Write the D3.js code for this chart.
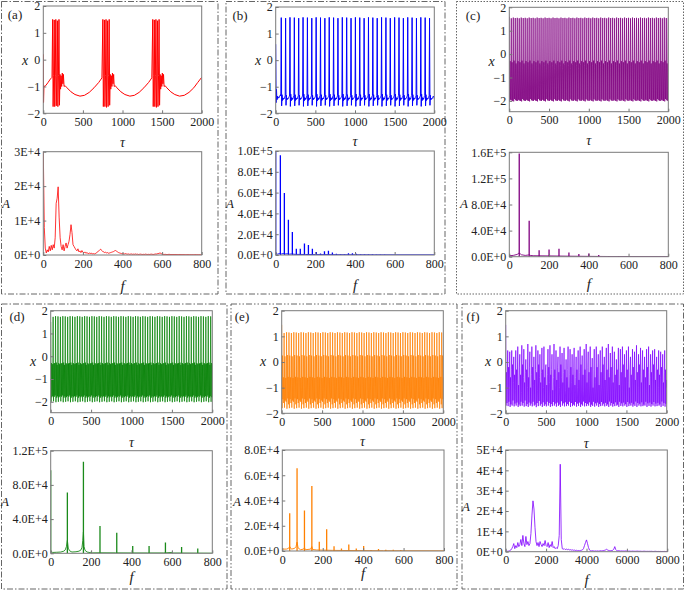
<!DOCTYPE html>
<html><head><meta charset="utf-8">
<script src="https://cdn.jsdelivr.net/npm/d3@7"></script>
<style>
body{margin:0;background:#fff}
svg{display:block}
text{font-family:"Liberation Serif","Times New Roman",serif;fill:#222}
</style>
</head><body>
<svg id="chart" width="685" height="591"></svg>
<script>
// ---------------- DATA ----------------
const timeTicksX = [0,500,1000,1500,2000];
const timeTicksY = [-2,-1,0,1,2];
const freqTicks = [0,200,400,600,800];
const freqTicksF = [0,2000,4000,6000,8000];
const specTicksA = [0,1e4,2e4,3e4];
const specTicksB = [0,2e4,4e4,6e4,8e4,1e5];
const specTicksC = [0,4e4,8e4,1.2e5,1.6e5];
const specTicksD = [0,4e4,8e4,1.2e5];
const specTicksE = [0,2e4,4e4,6e4,8e4];
const specTicksF = [0,1e4,2e4,3e4,4e4,5e4];

// (a) bursting time series (tau, x)
const aTau = [0,3,8,30,60,90,110,
 118,124,131,138,144,151,158,164,171,178,184,191,198,204,211,218,225,232,240,247,254,262,275,
 300,350,400,463,520,580,640,700,740,
 752,758,765,772,778,785,792,798,805,812,818,825,832,838,845,852,859,866,873,880,888,895,908,
 930,980,1030,1093,1150,1210,1270,1330,1370,
 1382,1388,1395,1402,1408,1415,1422,1428,1435,1442,1448,1455,1462,1468,1475,1482,1489,1496,1503,1510,1518,1525,1538,
 1560,1610,1660,1720,1780,1840,1900,1950,2000];
const aX = [0.2,-1.6,-1.0,-0.97,-0.85,-0.72,-0.66,
 1.5,-1.75,-0.6,1.48,-1.75,-0.6,1.5,-1.72,-0.62,1.45,-1.75,-0.6,1.5,-1.7,-0.55,-1.1,-0.6,-1.0,-0.5,-0.9,-0.55,-1.0,-0.97,
 -1.05,-1.2,-1.3,-1.36,-1.33,-1.22,-1.05,-0.85,-0.68,
 1.5,-1.75,-0.6,1.48,-1.75,-0.6,1.5,-1.78,-0.62,1.45,-1.75,-0.6,1.5,-1.7,-0.55,-1.1,-0.6,-1.0,-0.5,-0.9,-0.55,-1.0,-0.97,
 -1.05,-1.2,-1.3,-1.36,-1.33,-1.22,-1.05,-0.85,-0.68,
 1.5,-1.75,-0.6,1.48,-1.75,-0.6,1.5,-1.78,-0.62,1.45,-1.75,-0.6,1.5,-1.7,-0.55,-1.1,-0.6,-1.0,-0.5,-0.9,-0.55,-1.0,-0.97,
 -1.05,-1.2,-1.3,-1.36,-1.33,-1.22,-1.05,-0.85,-0.66];

// (b)-(f) time series sampled uniformly over tau 0..2000
const bX = [0.6,-1.6,-1.1,-1.5,-1.35,-1.45,-1.4,-1.42,-1.38,-1.4,-1.36,-1.33,-1.3,-1.35,
 1.6,-1.72,-1.3,-1.52,-1.42,-1.48,-1.44,-1.46,-1.41,-1.38,-1.34,
 1.58,-1.7,-1.32,-1.5,-1.43,-1.47,-1.45,-1.44,-1.4,-1.37,-1.35,
 1.61,-1.74,-1.28,-1.53,-1.41,-1.49,-1.43,-1.47,-1.42,-1.36,-1.33,
 1.6,-1.72,-1.3,-1.52,-1.42,-1.48,-1.44,-1.46,-1.41,-1.38,-1.34,
 1.58,-1.7,-1.32,-1.5,-1.43,-1.47,-1.45,-1.44,-1.4,-1.37,-1.35,
 1.61,-1.74,-1.28,-1.53,-1.41,-1.49,-1.43,-1.47,-1.42,-1.36,-1.33,
 1.6,-1.72,-1.3,-1.52,-1.42,-1.48,-1.44,-1.46,-1.41,-1.38,-1.34,
 1.58,-1.7,-1.32,-1.5,-1.43,-1.47,-1.45,-1.44,-1.4,-1.37,-1.35,
 1.61,-1.74,-1.28,-1.53,-1.41,-1.49,-1.43,-1.47,-1.42,-1.36,-1.33,
 1.6,-1.72,-1.3,-1.52,-1.42,-1.48,-1.44,-1.46,-1.41,-1.38,-1.34,
 1.58,-1.7,-1.32,-1.5,-1.43,-1.47,-1.45,-1.44,-1.4,-1.37,-1.35,
 1.61,-1.74,-1.28,-1.53,-1.41,-1.49,-1.43,-1.47,-1.42,-1.36,-1.33,
 1.6,-1.72,-1.3,-1.52,-1.42,-1.48,-1.44,-1.46,-1.41,-1.38,-1.34,
 1.58,-1.7,-1.32,-1.5,-1.43,-1.47,-1.45,-1.44,-1.4,-1.37,-1.35,
 1.61,-1.74,-1.28,-1.53,-1.41,-1.49,-1.43,-1.47,-1.42,-1.36,-1.33,
 1.6,-1.72,-1.3,-1.52,-1.42,-1.48,-1.44,-1.46,-1.41,-1.38,-1.34,
 1.58,-1.7,-1.32,-1.5,-1.43,-1.47,-1.45,-1.44,-1.4,-1.37,-1.35,
 1.61,-1.74,-1.28,-1.53,-1.41,-1.49,-1.43,-1.47,-1.42,-1.36,-1.33,
 1.6,-1.72,-1.3,-1.52,-1.42,-1.48,-1.44,-1.46,-1.41,-1.38,-1.34,
 1.58,-1.7,-1.32,-1.5,-1.43,-1.47,-1.45,-1.44,-1.4,-1.37,-1.35,
 1.61,-1.74,-1.28,-1.53,-1.41,-1.49,-1.43,-1.47,-1.42,-1.36,-1.33,
 1.6,-1.72,-1.3,-1.52,-1.42,-1.48,-1.44,-1.46,-1.41,-1.38,-1.34,
 1.58,-1.7,-1.32,-1.5,-1.43,-1.47,-1.45,-1.44,-1.4,-1.37,-1.35,
 1.61,-1.74,-1.28,-1.53,-1.41,-1.49,-1.43,-1.47,-1.42,-1.36,-1.33,
 1.6,-1.72,-1.3,-1.52,-1.42,-1.48,-1.44,-1.46,-1.41,-1.38,-1.34,
 1.58,-1.7,-1.32,-1.5,-1.43,-1.47,-1.45,-1.44,-1.4,-1.37,-1.35,
 1.61,-1.74,-1.28,-1.53,-1.41,-1.49,-1.43,-1.47,-1.42,-1.36,-1.33,
 1.6,-1.72,-1.3,-1.52,-1.42,-1.48,-1.44,-1.46,-1.41,-1.38,-1.34,
 1.58,-1.7,-1.32,-1.5,-1.43,-1.47,-1.45,-1.44,-1.4,-1.37,-1.35,
 1.61,-1.74,-1.28,-1.53,-1.41,-1.49,-1.43,-1.47,-1.42,-1.36,-1.33,
 1.6,-1.72,-1.3,-1.52,-1.42,-1.48,-1.44,-1.46,-1.41,-1.38,-1.34,
 1.58,-1.7,-1.32,-1.5,-1.43,-1.47,-1.45,-1.44,-1.4,-1.37,-1.35,
 1.61,-1.74,-1.28,-1.53,-1.41,-1.49,-1.43,-1.47,-1.42,-1.36,-1.33,
 1.6,-1.72,-1.3,-1.52,-1.42,-1.48,-1.44,-1.46,-1.41,-1.38,-1.34,
 1.58,-1.7,-1.32,-1.5,-1.43,-1.47,-1.45,-1.44,-1.4,-1.37,-1.35,
 -1.4,-1.45];

const cX = [
 1.6,-2.0,-0.3,-1.95,-0.55, 1.53,-1.98,-0.35,-2.0,-0.5, 1.56,-2.02,-0.28,-1.92,-0.6, 1.54,-1.97,-0.4,-1.99,-0.45,
 1.55,-2.0,-0.3,-1.95,-0.55, 1.53,-1.98,-0.35,-2.0,-0.5, 1.56,-2.02,-0.28,-1.92,-0.6, 1.54,-1.97,-0.4,-1.99,-0.45,
 1.55,-2.0,-0.3,-1.95,-0.55, 1.53,-1.98,-0.35,-2.0,-0.5, 1.56,-2.02,-0.28,-1.92,-0.6, 1.54,-1.97,-0.4,-1.99,-0.45,
 1.55,-2.0,-0.3,-1.95,-0.55, 1.53,-1.98,-0.35,-2.0,-0.5, 1.56,-2.02,-0.28,-1.92,-0.6, 1.54,-1.97,-0.4,-1.99,-0.45,
 1.55,-2.0,-0.3,-1.95,-0.55, 1.53,-1.98,-0.35,-2.0,-0.5, 1.56,-2.02,-0.28,-1.92,-0.6, 1.54,-1.97,-0.4,-1.99,-0.45,
 1.55,-2.0,-0.3,-1.95,-0.55, 1.53,-1.98,-0.35,-2.0,-0.5, 1.56,-2.02,-0.28,-1.92,-0.6, 1.54,-1.97,-0.4,-1.99,-0.45,
 1.55,-2.0,-0.3,-1.95,-0.55, 1.53,-1.98,-0.35,-2.0,-0.5, 1.56,-2.02,-0.28,-1.92,-0.6, 1.54,-1.97,-0.4,-1.99,-0.45,
 1.55,-2.0,-0.3,-1.95,-0.55, 1.53,-1.98,-0.35,-2.0,-0.5, 1.56,-2.02,-0.28,-1.92,-0.6, 1.54,-1.97,-0.4,-1.99,-0.45,
 1.55,-2.0,-0.3,-1.95,-0.55, 1.53,-1.98,-0.35,-2.0,-0.5, 1.56,-2.02,-0.28,-1.92,-0.6, 1.54,-1.97,-0.4,-1.99,-0.45,
 1.55,-2.0,-0.3,-1.95,-0.55, 1.53,-1.98,-0.35,-2.0,-0.5, 1.56,-2.02,-0.28,-1.92,-0.6, 1.54,-1.97,-0.4,-1.99,-0.45,
 1.55,-2.0,-0.3,-1.95,-0.55, 1.53,-1.98,-0.35,-2.0,-0.5, 1.56,-2.02,-0.28,-1.92,-0.6, 1.54,-1.97,-0.4,-1.99,-0.45,
 1.55,-2.0,-0.3,-1.95,-0.55, 1.53,-1.98,-0.35,-2.0,-0.5, 1.56,-2.02,-0.28,-1.92,-0.6, 1.54,-1.97,-0.4,-1.99,-0.45,
 1.55,-2.0,-0.3,-1.95,-0.55, 1.53,-1.98,-0.35,-2.0,-0.5, 1.56,-2.02,-0.28,-1.92,-0.6, 1.54,-1.97,-0.4,-1.99,-0.45,
 1.55,-2.0,-0.3,-1.95,-0.55, 1.53,-1.98,-0.35,-2.0,-0.5, 1.56,-2.02,-0.28,-1.92,-0.6, 1.54,-1.97,-0.4,-1.99,-0.45,
 1.55,-2.0,-0.3,-1.95,-0.55, 1.53,-1.98,-0.35,-2.0,-0.5, 1.56,-2.02,-0.28,-1.92,-0.6, 1.54,-1.97,-0.4,-1.99,-0.45,
 1.55,-2.0,-0.3,-1.95,-0.55, 1.53,-1.98,-0.35,-2.0,-0.5, 1.56,-2.02,-0.28,-1.92,-0.6, 1.54,-1.97,-0.4,-1.99,-0.45,
 1.55,-2.0,-0.3,-1.95,-0.55, 1.53,-1.98,-0.35,-2.0,-0.5, 1.56,-2.02,-0.28,-1.92,-0.6, 1.54,-1.97,-0.4,-1.99,-0.45,
 1.55,-2.0,-0.3,-1.95,-0.55, 1.53,-1.98,-0.35,-2.0,-0.5, 1.56,-2.02,-0.28,-1.92,-0.6, 1.54,-1.97,-0.4,-1.99,-0.45,
 1.55,-2.0,-0.3,-1.95,-0.55, 1.53,-1.98,-0.35,-2.0,-0.5, 1.56,-2.02,-0.28,-1.92,-0.6, 1.54,-1.97,-0.4,-1.99,-0.45,
 1.55,-2.0,-0.3,-1.95,-0.55, 1.53,-1.98,-0.35,-2.0,-0.5, 1.56,-2.02,-0.28,-1.92,-0.6, 1.54,-1.97,-0.4,-1.99,-0.45,
 1.55];

const dX = [
 1.5,-2.0,-0.3,-1.8,-0.35,-1.75, 1.73,-1.98,-0.32,-1.78,-0.3,-1.72, 1.76,-2.02,-0.28,-1.82,-0.38,-1.76,
 1.75,-2.0,-0.3,-1.8,-0.35,-1.75, 1.73,-1.98,-0.32,-1.78,-0.3,-1.72, 1.76,-2.02,-0.28,-1.82,-0.38,-1.76,
 1.75,-2.0,-0.3,-1.8,-0.35,-1.75, 1.73,-1.98,-0.32,-1.78,-0.3,-1.72, 1.76,-2.02,-0.28,-1.82,-0.38,-1.76,
 1.75,-2.0,-0.3,-1.8,-0.35,-1.75, 1.73,-1.98,-0.32,-1.78,-0.3,-1.72, 1.76,-2.02,-0.28,-1.82,-0.38,-1.76,
 1.75,-2.0,-0.3,-1.8,-0.35,-1.75, 1.73,-1.98,-0.32,-1.78,-0.3,-1.72, 1.76,-2.02,-0.28,-1.82,-0.38,-1.76,
 1.75,-2.0,-0.3,-1.8,-0.35,-1.75, 1.73,-1.98,-0.32,-1.78,-0.3,-1.72, 1.76,-2.02,-0.28,-1.82,-0.38,-1.76,
 1.75,-2.0,-0.3,-1.8,-0.35,-1.75, 1.73,-1.98,-0.32,-1.78,-0.3,-1.72, 1.76,-2.02,-0.28,-1.82,-0.38,-1.76,
 1.75,-2.0,-0.3,-1.8,-0.35,-1.75, 1.73,-1.98,-0.32,-1.78,-0.3,-1.72, 1.76,-2.02,-0.28,-1.82,-0.38,-1.76,
 1.75,-2.0,-0.3,-1.8,-0.35,-1.75, 1.73,-1.98,-0.32,-1.78,-0.3,-1.72, 1.76,-2.02,-0.28,-1.82,-0.38,-1.76,
 1.75,-2.0,-0.3,-1.8,-0.35,-1.75, 1.73,-1.98,-0.32,-1.78,-0.3,-1.72, 1.76,-2.02,-0.28,-1.82,-0.38,-1.76,
 1.75,-2.0,-0.3,-1.8,-0.35,-1.75, 1.73,-1.98,-0.32,-1.78,-0.3,-1.72, 1.76,-2.02,-0.28,-1.82,-0.38,-1.76,
 1.75,-2.0,-0.3,-1.8,-0.35,-1.75, 1.73,-1.98,-0.32,-1.78,-0.3,-1.72, 1.76,-2.02,-0.28,-1.82,-0.38,-1.76,
 1.75,-2.0,-0.3,-1.8,-0.35,-1.75, 1.73,-1.98,-0.32,-1.78,-0.3,-1.72, 1.76,-2.02,-0.28,-1.82,-0.38,-1.76,
 1.75,-2.0,-0.3,-1.8,-0.35,-1.75, 1.73,-1.98,-0.32,-1.78,-0.3,-1.72, 1.76,-2.02,-0.28,-1.82,-0.38,-1.76,
 1.75,-2.0,-0.3,-1.8,-0.35,-1.75, 1.73,-1.98,-0.32,-1.78,-0.3,-1.72, 1.76,-2.02,-0.28,-1.82,-0.38,-1.76,
 1.75,-2.0,-0.3,-1.8,-0.35,-1.75, 1.73,-1.98,-0.32,-1.78,-0.3,-1.72, 1.76,-2.02,-0.28,-1.82,-0.38,-1.76,
 1.75,-2.0,-0.3,-1.8,-0.35,-1.75, 1.73,-1.98,-0.32,-1.78,-0.3,-1.72, 1.76,-2.02,-0.28,-1.82,-0.38,-1.76,
 1.75,-2.0,-0.3,-1.8,-0.35,-1.75, 1.73,-1.98,-0.32,-1.78,-0.3,-1.72, 1.76,-2.02,-0.28,-1.82,-0.38,-1.76,
 1.75,-2.0,-0.3,-1.8,-0.35,-1.75, 1.73,-1.98,-0.32,-1.78,-0.3,-1.72, 1.76,-2.02,-0.28,-1.82,-0.38,-1.76,
 1.75,-2.0,-0.3,-1.8,-0.35,-1.75, 1.73,-1.98,-0.32,-1.78,-0.3,-1.72, 1.76,-2.02,-0.28,-1.82,-0.38,-1.76,
 1.75,-2.0,-0.3,-1.8,-0.35,-1.75, 1.73,-1.98,-0.32,-1.78,-0.3,-1.72, 1.76,-2.02,-0.28,-1.82,-0.38,-1.76,
 1.75,-2.0,-0.3,-1.8,-0.35,-1.75, 1.73,-1.98,-0.32,-1.78,-0.3,-1.72, 1.76,-2.02,-0.28,-1.82,-0.38,-1.76,
 1.75,-2.0,-0.3,-1.8,-0.35];

const eX = [
 1.45,-1.8,0.25,-1.45,-0.6,-1.6, 1.13,-1.78,0.22,-1.5,-0.62,-1.55, 1.16,-1.82,0.27,-1.42,-0.58,-1.65,
 1.15,-1.8,0.25,-1.45,-0.6,-1.6, 1.13,-1.78,0.22,-1.5,-0.62,-1.55, 1.16,-1.82,0.27,-1.42,-0.58,-1.65,
 1.15,-1.8,0.25,-1.45,-0.6,-1.6, 1.13,-1.78,0.22,-1.5,-0.62,-1.55, 1.16,-1.82,0.27,-1.42,-0.58,-1.65,
 1.15,-1.8,0.25,-1.45,-0.6,-1.6, 1.13,-1.78,0.22,-1.5,-0.62,-1.55, 1.16,-1.82,0.27,-1.42,-0.58,-1.65,
 1.15,-1.8,0.25,-1.45,-0.6,-1.6, 1.13,-1.78,0.22,-1.5,-0.62,-1.55, 1.16,-1.82,0.27,-1.42,-0.58,-1.65,
 1.15,-1.8,0.25,-1.45,-0.6,-1.6, 1.13,-1.78,0.22,-1.5,-0.62,-1.55, 1.16,-1.82,0.27,-1.42,-0.58,-1.65,
 1.15,-1.8,0.25,-1.45,-0.6,-1.6, 1.13,-1.78,0.22,-1.5,-0.62,-1.55, 1.16,-1.82,0.27,-1.42,-0.58,-1.65,
 1.15,-1.8,0.25,-1.45,-0.6,-1.6, 1.13,-1.78,0.22,-1.5,-0.62,-1.55, 1.16,-1.82,0.27,-1.42,-0.58,-1.65,
 1.15,-1.8,0.25,-1.45,-0.6,-1.6, 1.13,-1.78,0.22,-1.5,-0.62,-1.55, 1.16,-1.82,0.27,-1.42,-0.58,-1.65,
 1.15,-1.8,0.25,-1.45,-0.6,-1.6, 1.13,-1.78,0.22,-1.5,-0.62,-1.55, 1.16,-1.82,0.27,-1.42,-0.58,-1.65,
 1.15,-1.8,0.25,-1.45,-0.6,-1.6, 1.13,-1.78,0.22,-1.5,-0.62,-1.55, 1.16,-1.82,0.27,-1.42,-0.58,-1.65,
 1.15,-1.8,0.25,-1.45,-0.6,-1.6, 1.13,-1.78,0.22,-1.5,-0.62,-1.55, 1.16,-1.82,0.27,-1.42,-0.58,-1.65,
 1.15,-1.8,0.25,-1.45,-0.6,-1.6, 1.13,-1.78,0.22,-1.5,-0.62,-1.55, 1.16,-1.82,0.27,-1.42,-0.58,-1.65,
 1.15,-1.8,0.25,-1.45,-0.6,-1.6, 1.13,-1.78,0.22,-1.5,-0.62,-1.55, 1.16,-1.82,0.27,-1.42,-0.58,-1.65,
 1.15,-1.8,0.25,-1.45,-0.6,-1.6, 1.13,-1.78,0.22,-1.5,-0.62,-1.55, 1.16,-1.82,0.27,-1.42,-0.58,-1.65,
 1.15,-1.8,0.25,-1.45,-0.6,-1.6, 1.13,-1.78,0.22,-1.5,-0.62,-1.55, 1.16,-1.82,0.27,-1.42,-0.58,-1.65,
 1.15,-1.8,0.25,-1.45,-0.6,-1.6, 1.13,-1.78,0.22,-1.5,-0.62,-1.55, 1.16,-1.82,0.27,-1.42,-0.58,-1.65,
 1.15,-1.8,0.25,-1.45,-0.6,-1.6, 1.13,-1.78,0.22,-1.5,-0.62,-1.55, 1.16,-1.82,0.27,-1.42,-0.58,-1.65,
 1.15,-1.8,0.25,-1.45,-0.6,-1.6, 1.13,-1.78,0.22,-1.5,-0.62,-1.55, 1.16,-1.82,0.27,-1.42,-0.58,-1.65,
 1.15,-1.8,0.25,-1.45,-0.6,-1.6, 1.13,-1.78,0.22,-1.5,-0.62,-1.55, 1.16,-1.82,0.27,-1.42,-0.58,-1.65,
 1.15,-1.8,0.25,-1.45,-0.6,-1.6, 1.13,-1.78,0.22,-1.5,-0.62,-1.55, 1.16,-1.82,0.27,-1.42,-0.58,-1.65,
 1.15,-1.8,0.25,-1.45,-0.6,-1.6, 1.13,-1.78,0.22,-1.5,-0.62,-1.55, 1.16,-1.82,0.27,-1.42,-0.58,-1.65,
 1.15,-1.8,0.25,-1.45,-0.6];

const fX = [
 1.45,-1.7,-0.4,-1.6,-0.9, 0.45,-1.72,-0.2,-1.55,-1.0, 0.4,-1.75,-0.6,-1.65,-0.3, 0.45,-1.7,-0.1,-1.5,-0.8,
 0.2,-1.73,-0.5,-1.62,-1.1, 0.45,-1.7,-0.3,-1.58,-0.7, 0.6,-1.75,-0.9,-1.66,-0.2, 0.3,-1.72,-0.5,-1.55,-1.2,
 0.65,-1.7,-0.1,-1.6,-0.6, 0.5,-1.74,-0.8,-1.5,-0.4, 0.1,-1.72,-0.3,-1.64,-1.0, 0.7,-1.75,-0.6,-1.58,-0.2,
 0.4,-1.7,-1.0,-1.62,-0.5, 0.6,-1.73,-0.2,-1.55,-0.9, 0.2,-1.7,-0.7,-1.66,-0.3, 0.65,-1.76,-0.4,-1.6,-1.1,
 0.45,-1.72,-0.1,-1.52,-0.6, 0.3,-1.7,-0.8,-1.63,-0.4, 0.55,-1.75,-0.3,-1.57,-1.0, 0.6,-1.71,-0.6,-1.65,-0.2,
 -0.1,-1.73,-0.9,-1.55,-0.5, 0.5,-1.7,-0.2,-1.6,-0.8, 0.65,-1.75,-0.5,-1.64,-0.3, 0.3,-1.72,-1.1,-1.56,-0.6,
 0.7,-1.7,-0.3,-1.62,-0.9, 0.45,-1.74,-0.7,-1.58,-0.2, 0.2,-1.71,-0.4,-1.66,-1.0, 0.6,-1.75,-0.1,-1.53,-0.6,
 0.35,-1.7,-0.8,-1.61,-0.4, 0.55,-1.73,-0.3,-1.57,-1.1, 0.1,-1.72,-0.6,-1.64,-0.3, 0.6,-1.7,-1.0,-1.55,-0.5,
 0.5,-1.75,-0.2,-1.6,-0.8, 0.3,-1.72,-0.5,-1.66,-0.2, 0.55,-1.7,-0.9,-1.56,-0.6, 0.2,-1.74,-0.3,-1.62,-1.0,
 0.45,-1.71,-0.7,-1.58,-0.4, 0.6,-1.75,-0.1,-1.65,-0.7, 0.25,-1.7,-0.5,-1.54,-1.1, 0.5,-1.73,-0.3,-1.6,-0.5,
 0.7,-1.72,-0.8,-1.63,-0.2, 0.4,-1.7,-0.4,-1.57,-0.9, 0.6,-1.75,-0.2,-1.66,-0.6, 0.15,-1.71,-1.0,-1.55,-0.3,
 0.5,-1.74,-0.6,-1.61,-0.8, 0.6,-1.7,-0.2,-1.58,-0.5, 0.3,-1.75,-0.9,-1.64,-0.2, 0.45,-1.72,-0.4,-1.56,-1.0,
 0.6,-1.7,-0.1,-1.62,-0.6, 0.2,-1.73,-0.7,-1.59,-0.3, 0.55,-1.71,-0.3,-1.65,-1.1, 0.7,-1.75,-0.6,-1.54,-0.4,
 0.35,-1.7,-0.2,-1.6,-0.8, 0.6,-1.74,-0.8,-1.63,-0.3, 0.4,-1.72,-0.5,-1.57,-1.0, 0.1,-1.7,-0.3,-1.66,-0.5,
 0.55,-1.75,-0.9,-1.55,-0.2, 0.5,-1.71,-0.4,-1.61,-0.7, 0.6,-1.73,-0.1,-1.58,-1.1, 0.3,-1.7,-0.6,-1.64,-0.4,
 0.45,-1.75,-0.3,-1.56,-0.8, 0.6,-1.72,-1.0,-1.62,-0.2, 0.2,-1.7,-0.5,-1.59,-0.6, 0.5,-1.74,-0.2,-1.65,-0.9,
 0.4,-1.71,-0.7,-1.54,-0.3, 0.65,-1.75,-0.4,-1.6,-1.0, 0.3,-1.7,-0.1,-1.63,-0.5, 0.55,-1.73,-0.8,-1.57,-0.2,
 0.45,-1.72,-0.3,-1.66,-0.7, 0.2,-1.7,-0.6,-1.55,-1.1, 0.5,-1.75,-0.2,-1.61,-0.4, 0.6,-1.71,-0.9,-1.58,-0.6,
 0.3,-1.74,-0.4,-1.64,-0.2, 0.45,-1.7,-0.1,-1.56,-0.9, 0.5,-1.73,-0.7,-1.62,-0.3, 0.2,-1.72,-0.3,-1.59,-1.0,
 0.45,-1.7,-0.5,-1.65,-0.6, 0.4,-1.75,-0.2,-1.54,-0.8, 0.3,-1.71,-0.8,-1.6,-0.4, 0.45,-1.74,-0.3,-1.63,-0.7,
 -1.0];

// (a) spectrum, f = 0..800 step 5
const aSpec = [30000,8000,2000,600,1500,900,2500,1200,2800,1500,3000,2000,5000,15000,16500,19800,11000,5000,2500,1500,
 3000,1200,2500,3500,2000,3000,4000,6000,8800,6500,3000,2500,2000,1500,1200,1800,900,1200,700,1300,800,
 600,900,500,700,500,400,600,400,500,300,400,300,500,700,900,1200,1500,1700,1300,1000,
 900,700,800,600,700,500,600,700,800,900,1000,1200,1300,1100,900,700,600,500,400,400,
 350,300,400,300,250,300,200,250,300,200,250,200,300,200,250,150,200,250,200,150,
 200,150,250,200,150,200,150,200,250,200,150,200,300,250,350,400,500,600,400,250,
 200,150,200,150,100,150,200,150,100,150,100,150,100,150,100,120,100,150,100,120,
 100,120,100,80,100,120,100,80,100,80,100,80,100,120,80,100,80,100,80,100];

// (f) spectrum, f = 0..8000 step 50
const fSpec = [500,300,200,300,500,800,1500,2500,4000,1500,3000,2000,4500,2500,3500,6000,3000,8000,4000,2500,7500,
 3500,5000,3000,4000,9000,18000,25000,21000,12000,5000,3000,4500,2500,5000,3500,2500,4000,3000,5500,3000,
 2500,4500,2000,3500,2500,5000,2000,2500,1500,2000,1500,3000,8000,43000,6000,1500,1200,1500,1000,1300,
 1000,1200,900,1000,800,900,700,800,600,700,500,600,500,600,700,900,1500,3000,4500,5800,
 4000,2000,800,500,400,500,400,300,400,300,400,300,400,500,400,500,600,700,900,1200,
 800,600,500,500,600,700,1200,2500,1000,500,400,500,400,300,400,300,350,300,400,300,
 300,250,300,200,250,300,200,250,200,300,250,200,250,200,150,200,250,200,150,200,
 150,200,150,200,150,100,150,200,150,100,150,100,150,100,120,100,150,100,120,100];

// line spectra: peak frequencies / amplitudes and the low background
const bPeakF = [0,23.5,43.7,64,84,104,124,145,165,185,205,226,246,266,286,306,327,347,367,387,407,428,448,468,488,508,528,549];
const bPeakA = [100000,96000,59500,34000,22000,6000,6000,11000,9500,6000,3000,1500,3500,4000,2500,1200,500,500,1800,1800,1200,500,500,400,400,300,300,200];
const bBaseF = [0,10,20,30,40,50,60,70,80,100,150,200,300,400,500,800];
const bBaseA = [1500,800,1500,1000,1500,1000,1200,800,1000,600,500,400,300,200,150,100];

const cPeakF = [50,100,150,200,250,300,350,400,450,500,550];
const cPeakA = [158000,55000,10000,11000,12000,6600,4000,5000,2500,1200,800];
const cBaseF = [0,20,40,45,50,55,60,80,95,100,105,120,200,300,400,500,800];
const cBaseA = [1500,2000,3500,5000,5000,4500,3000,2000,2500,3000,2000,1500,1200,800,500,300,200];

const dPeakF = [0,82.5,162,244,327,406,487,568,648,728];
const dPeakA = [97000,71000,107000,32000,24000,8500,8500,12500,7500,5500];
const dBaseF = [0,10,30,50,65,72,78,82.5,87,93,105,125,140,150,155,159,162,165,170,180,195,200,205,240,320,400,480,560,600,605,640,720,800];
const dBaseA = [2000,1000,1200,1500,2500,4000,8000,15000,6000,3000,1500,1800,2500,4000,7000,15000,25000,8000,3500,1500,800,1500,500,600,500,400,400,400,1000,300,300,200,100];

const ePeakF = [36.6,73,109.6,146.2,183,219.5,256,292.7,329,366,402.5,439,476,512,549,586];
const ePeakA = [30000,65500,32000,51500,7300,17300,3700,2000,5200,2000,4000,500,1500,1000,1000,800];
const eBaseF = [0,20,30,36.6,45,60,68,73,78,90,105,109.6,115,140,146.2,150,170,200,250,300,400,500,800];
const eBaseA = [1500,1500,2000,3500,1500,2000,3500,7000,2500,1000,1500,2500,1000,1500,3500,1200,800,700,500,400,300,200,100];

// ---------------- DRAWING ----------------
const svg = d3.select('#chart');
let clipN = 0;
const fmt0 = v => v.toExponential(0).toUpperCase();
const fmt1 = v => v.toExponential(1).toUpperCase();

function axes(L, T, R, B, xDom, yDom, xT, yT, yF) {
  const x = d3.scaleLinear().domain(xDom).range([L, R]);
  const y = d3.scaleLinear().domain(yDom).range([B, T]);
  const id = 'clip' + (clipN++);
  svg.append('clipPath').attr('id', id).append('rect')
    .attr('x', L).attr('y', T).attr('width', R - L).attr('height', B - T);
  const plot = svg.append('g').attr('clip-path', `url(#${id})`);
  return {x, y, plot, draw() {
    const ax = svg.append('g').attr('transform', `translate(0,${B})`)
      .call(d3.axisBottom(x).tickValues(xT).tickFormat(d3.format('d')).tickSize(-3).tickPadding(4));
    const ay = svg.append('g').attr('transform', `translate(${L},0)`)
      .call(d3.axisLeft(y).tickValues(yT).tickFormat(yF).tickSize(-3).tickPadding(3));
    [ax, ay].forEach(a => {
      a.select('.domain').remove();
      a.selectAll('line').attr('stroke', '#777');
      a.selectAll('text').style('font-size', '12px').style('fill', '#222')
        .style('font-family', '"Liberation Serif","Times New Roman",serif');
    });
    svg.append('rect').attr('x', L).attr('y', T).attr('width', R - L).attr('height', B - T)
      .attr('fill', 'none').attr('stroke', '#7a7a7a').attr('stroke-width', 1);
  }};
}

function uniform(vals) {
  const n = vals.length;
  return vals.map((v, i) => [i * 2000 / (n - 1), v]);
}

function drawLine(A, pts, color, w) {
  A.plot.append('path').datum(pts)
    .attr('d', d3.line().x(d => A.x(d[0])).y(d => A.y(d[1])))
    .attr('fill', 'none').attr('stroke', color).attr('stroke-width', w).attr('stroke-linejoin', 'round');
}

function drawSticks(A, pf, pa, bf, ba, color) {
  drawLine(A, bf.map((f, i) => [f, ba[i]]), color, 0.9);
  A.plot.selectAll(null).data(pf.map((f, i) => [f, pa[i]])).enter().append('line')
    .attr('x1', d => A.x(d[0])).attr('x2', d => A.x(d[0]))
    .attr('y1', A.y(0)).attr('y2', d => A.y(d[1]))
    .attr('stroke', color).attr('stroke-width', 1.3);
}

function txt(x, y, s, opts = {}) {
  const t = svg.append('text').attr('x', x).attr('y', y).text(s)
    .attr('text-anchor', opts.anchor || 'middle').attr('dominant-baseline', 'central')
    .style('font-size', (opts.size || 13) + 'px');
  if (opts.italic) t.style('font-style', 'italic');
  return t;
}

const panels = [
  {lab:'(a)', labXY:[15,14], box:[1.5,1.5,218,294], dash:'6,2,1.5,2', color:'#ff0000',
   t:[43.3,6,201.7,113.3], tDom:[-2,2], xLab:[25,60], tauY:142,
   s:[43.3,151.7,201.7,255], sDom:[0,3e4], sXDom:[0,800], sXT:freqTicks, sYT:specTicksA, sF:fmt0, aLab:[6,203], fY:286,
   series:()=>aTau.map((t,i)=>[t,aX[i]]), lw:1.0,
   spec:A=>drawLine(A, aSpec.map((v,i)=>[i*5,v]), '#ff0000', 0.8)},
  {lab:'(b)', labXY:[240,15], box:[226,1.5,445,294], dash:'6,2,1.5,2', color:'#0000ff',
   t:[275.7,7,434.3,113.3], tDom:[-2,2], xLab:[258,60], tauY:141.7,
   s:[275.7,151,434.3,255], sDom:[0,1e5], sXDom:[0,800], sXT:freqTicks, sYT:specTicksB, sF:fmt1, aLab:[230,203], fY:285,
   series:()=>uniform(bX), lw:1.0,
   spec:A=>drawSticks(A, bPeakF, bPeakA, bBaseF, bBaseA, '#0000ff')},
  {lab:'(c)', labXY:[473,15], box:[456.5,1.5,683.5,294], dash:'1.5,1.5', color:'#800080',
   t:[509.3,7.3,668.3,111.7], tDom:[-2.46,2], xLab:[491.7,61], tauY:140,
   s:[509.3,152.3,668.3,256.7], sDom:[0,1.6e5], sXDom:[0,800], sXT:freqTicks, sYT:specTicksC, sF:fmt1, aLab:[464,203], fY:283.5,
   series:()=>uniform(cX), lw:0.75,
   spec:A=>drawSticks(A, cPeakF, cPeakA, cBaseF, cBaseA, '#800080')},
  {lab:'(d)', labXY:[17,316], box:[1.5,304,227,589], dash:'6,2,1.5,2', color:'#008000',
   t:[50.7,310.7,212.3,412.7], tDom:[-2.48,2], xLab:[33,361.7], tauY:442.7,
   s:[50.7,450.7,212.3,553.3], sDom:[0,1.2e5], sXDom:[0,800], sXT:freqTicks, sYT:specTicksD, sF:fmt1, aLab:[5,501.7], fY:576.7,
   series:()=>uniform(dX), lw:0.7,
   spec:A=>drawSticks(A, dPeakF, dPeakA, dBaseF, dBaseA, '#1a8a1a')},
  {lab:'(e)', labXY:[242,316], box:[231,304,457,589], dash:'6,2,1.5,2,1.5,2', color:'#ff8000',
   t:[281.7,310.7,443.3,413.3], tDom:[-2,2], xLab:[263,361.7], tauY:441.7,
   s:[282.3,450,444,551], sDom:[0,8e4], sXDom:[0,800], sXT:freqTicks, sYT:specTicksE, sF:fmt1, aLab:[237,501.7], fY:573,
   series:()=>uniform(eX), lw:0.7,
   spec:A=>drawSticks(A, ePeakF, ePeakA, eBaseF, eBaseA, '#ff8000')},
  {lab:'(f)', labXY:[473,316], box:[462,304,683.5,589], dash:'6,2,1.5,2', color:'#8000ff',
   t:[505.7,310.7,666.7,413.3], tDom:[-2,2], xLab:[488,361.7], tauY:443.3,
   s:[505.7,450,667.3,551.7], sDom:[0,5e4], sXDom:[0,8000], sXT:freqTicksF, sYT:specTicksF, sF:fmt0, aLab:[466,506], fY:580,
   series:()=>uniform(fX), lw:0.7,
   spec:A=>drawLine(A, fSpec.map((v,i)=>[i*50,v]), '#8000ff', 0.8)}
];

panels.forEach(p => {
  svg.append('rect').attr('x', p.box[0]).attr('y', p.box[1])
    .attr('width', p.box[2] - p.box[0]).attr('height', p.box[3] - p.box[1])
    .attr('fill', 'none').attr('stroke', '#555').attr('stroke-width', 0.9)
    .attr('stroke-dasharray', p.dash);
  const T = axes(p.t[0], p.t[1], p.t[2], p.t[3], [0, 2000], p.tDom, timeTicksX, timeTicksY, d3.format('d'));
  drawLine(T, p.series(), p.color, p.lw);
  T.draw();
  const S = axes(p.s[0], p.s[1], p.s[2], p.s[3], p.sXDom, p.sDom, p.sXT, p.sYT, p.sF);
  p.spec(S);
  S.draw();
  txt(p.labXY[0], p.labXY[1], p.lab, {size: 13});
  txt(p.xLab[0], p.xLab[1], 'x', {italic: true, size: 14});
  txt((p.t[0] + p.t[2]) / 2, p.tauY, 'τ', {italic: true, size: 14});
  txt(p.aLab[0], p.aLab[1], 'A', {italic: true, size: 13});
  txt((p.s[0] + p.s[2]) / 2, p.fY, 'f', {italic: true, size: 15});
});
</script>
</body></html>
